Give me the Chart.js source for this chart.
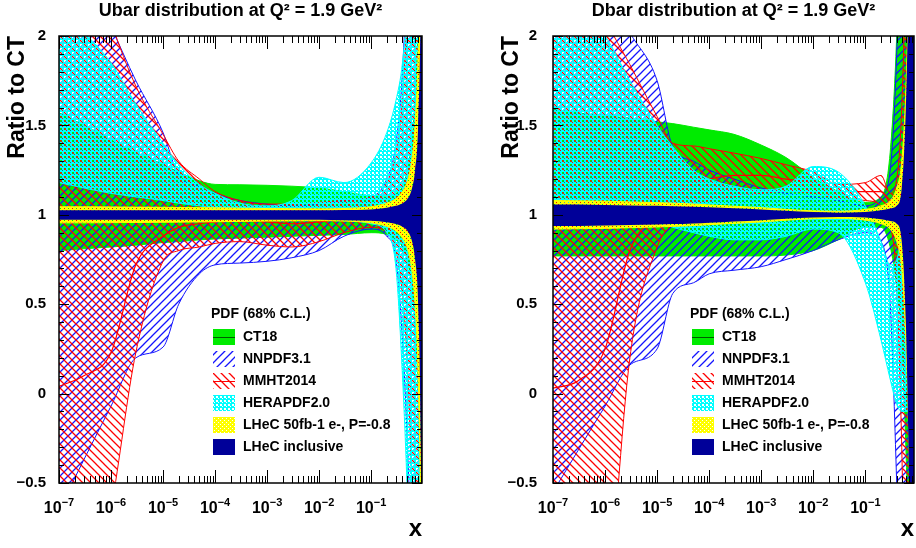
<!DOCTYPE html>
<html>
<head>
<meta charset="utf-8">
<script src="https://cdn.jsdelivr.net/npm/chart.js@4.4.0/dist/chart.umd.min.js"></script>
<style>
  html, body { margin: 0; padding: 0; background: #fff; }
  #wrap { position: relative; width: 916px; height: 548px; overflow: hidden; }
  .panel { position: absolute; top: 0; width: 458px; height: 548px; }
</style>
</head>
<body>
<div id="wrap">
  <div class="panel" style="left:0"><canvas id="ubar" width="458" height="548"></canvas></div>
  <div class="panel" style="left:458px"><canvas id="dbar" width="458" height="548"></canvas></div>
</div>
<script>
// x grid shared by every curve
const xGrid = [1e-7, 3e-7, 1e-6, 3e-6, 1e-5, 2e-5, 5e-5, 1e-4, 3e-4, 1e-3, 3e-3, 1e-2, 3e-2, 0.1, 0.2, 0.3, 0.4, 0.5, 0.6, 0.7, 0.8, 0.9, 0.95];
const xDecades = [1e-7, 1e-6, 1e-5, 1e-4, 1e-3, 1e-2, 1e-1];
const xExponents = ['−7', '−6', '−5', '−4', '−3', '−2', '−1'];
const yTicks = [-0.5, 0, 0.5, 1, 1.5, 2];
const seriesNames = ['CT18', 'NNPDF3.1', 'MMHT2014', 'HERAPDF2.0', 'LHeC 50fb-1 e-, P=-0.8', 'LHeC inclusive'];

// Ubar ratio bands (upper / lower edge)
const uCtUp = [1.57, 1.50, 1.42, 1.35, 1.28, 1.24, 1.19, 1.17, 1.168, 1.165, 1.16, 1.15, 1.13, 1.105, 1.10, 1.12, 1.16, 1.25, 1.4, 1.65, 2.1, 3, 4];
const uCtLo = [0.80, 0.81, 0.82, 0.83, 0.845, 0.85, 0.86, 0.865, 0.87, 0.875, 0.88, 0.885, 0.89, 0.90, 0.89, 0.86, 0.82, 0.74, 0.6, 0.38, 0.0, -0.8, -1.5];
const uNnUp = [2.6, 2.35, 2.05, 1.75, 1.46, 1.22, 1.16, 1.12, 1.08, 1.06, 1.05, 1.06, 1.08, 1.1, 1.2, 1.4, 1.8, 2.5, 3.5, 4, 4, 4, 4];
const uNnLo = [-0.65, -0.37, -0.07, 0.2, 0.26, 0.5, 0.67, 0.72, 0.73, 0.74, 0.76, 0.8, 0.88, 0.92, 0.88, 0.75, 0.3, -0.3, -1, -2, -2, -2, -2];
const uMmUp = [3.0, 2.6, 2.08, 1.72, 1.45, 1.3, 1.2, 1.13, 1.08, 1.06, 1.06, 1.07, 1.08, 1.1, 1.18, 1.35, 1.65, 2.2, 3, 4, 4, 4, 4];
const uMmLo = [-2.0, -1.4, -0.65, 0.23, 0.74, 0.8, 0.82, 0.84, 0.85, 0.83, 0.82, 0.85, 0.9, 0.93, 0.9, 0.8, 0.55, 0.15, -0.5, -1.5, -2, -2, -2];
const uMmMid = [0.04, 0.1, 0.23, 0.72, 0.88, 0.93, 0.95, 0.96, 0.97, 0.96, 0.95, 0.96, 0.98, 1.0, 1.02, 1.05, 1.1, 1.2, 1.3, 1.4, 1.5, 1.5, 1.5];
const uHeUp = [2.15, 2.02, 1.85, 1.62, 1.4, 1.28, 1.17, 1.12, 1.065, 1.05, 1.08, 1.21, 1.18, 1.29, 1.46, 1.64, 1.85, 2.2, 2.8, 3.5, 4, 4, 4];
const uHeLo = [1.18, 1.15, 1.12, 1.10, 1.08, 1.065, 1.05, 1.035, 1.01, 0.99, 0.98, 0.98, 0.97, 0.95, 0.9, 0.7, 0.1, -0.6, -1.5, -2, -2, -2, -2];
const uYeUp = [1.045, 1.045, 1.044, 1.043, 1.042, 1.041, 1.04, 1.039, 1.037, 1.035, 1.034, 1.033, 1.035, 1.045, 1.065, 1.09, 1.13, 1.19, 1.3, 1.5, 1.9, 2.8, 4];
const uYeLo = [0.955, 0.955, 0.956, 0.957, 0.958, 0.959, 0.96, 0.961, 0.963, 0.965, 0.966, 0.967, 0.965, 0.955, 0.935, 0.91, 0.87, 0.81, 0.7, 0.5, 0.1, -0.8, -2];
const uNvUp = [1.025, 1.025, 1.025, 1.025, 1.025, 1.025, 1.025, 1.025, 1.025, 1.025, 1.025, 1.025, 1.027, 1.03, 1.04, 1.05, 1.065, 1.09, 1.14, 1.25, 1.5, 2.3, 3.5];
const uNvLo = [0.972, 0.972, 0.972, 0.972, 0.972, 0.972, 0.972, 0.972, 0.972, 0.972, 0.972, 0.972, 0.97, 0.967, 0.958, 0.948, 0.933, 0.91, 0.86, 0.75, 0.5, -0.3, -1.5];

// Dbar ratio bands
const dCtUp = [1.59, 1.57, 1.555, 1.54, 1.52, 1.51, 1.49, 1.475, 1.45, 1.39, 1.32, 1.21, 1.13, 1.07, 1.1, 1.35, 2.0, 3.0, 4, 4, 4, 4, 4];
const dCtLo = [0.77, 0.77, 0.77, 0.77, 0.77, 0.77, 0.77, 0.77, 0.77, 0.77, 0.775, 0.8, 0.86, 0.93, 0.93, 0.82, 0.6, 0.3, -0.3, -1, -2, -2, -2];
const dNnUp = [2.6, 2.45, 2.3, 2.02, 1.75, 1.38, 1.3, 1.25, 1.2, 1.15, 1.12, 1.1, 1.08, 1.05, 1.1, 1.25, 1.9, 3, 4, 4, 4, 4, 4];
const dNnLo = [-0.55, -0.32, -0.07, 0.16, 0.25, 0.56, 0.62, 0.67, 0.69, 0.71, 0.75, 0.8, 0.86, 0.9, 0.85, 0.5, -0.5, -1.5, -2, -2, -2, -2, -2];
const dMmUp = [3.0, 2.5, 2.1, 1.84, 1.55, 1.4, 1.385, 1.37, 1.345, 1.315, 1.28, 1.24, 1.17, 1.18, 1.22, 1.12, 1.2, 1.6, 2.5, 4, 4, 4, 4];
const dMmLo = [-3.0, -2.2, -1.36, 0.2, 0.82, 0.95, 1.05, 1.08, 1.1, 1.12, 1.13, 1.12, 1.09, 1.08, 1.05, 0.95, 0.6, -0.3, -1.5, -2, -2, -2, -2];
const dMmMid = [0.03, 0.07, 0.25, 0.8, 1.0, 1.1, 1.18, 1.2, 1.22, 1.22, 1.2, 1.18, 1.13, 1.13, 1.13, 1.05, 0.9, 0.65, 0.3, 0, -0.5, -1, -1];
const dHeUp = [2.3, 2.15, 2.0, 1.75, 1.5, 1.38, 1.25, 1.2, 1.16, 1.14, 1.16, 1.27, 1.24, 1.05, 0.85, 0.72, 0.75, 0.9, 1.1, 1.3, 1.6, 1.8, 2];
const dHeLo = [1.08, 1.06, 1.03, 1.0, 0.96, 0.93, 0.9, 0.88, 0.86, 0.86, 0.88, 0.92, 0.9, 0.62, 0.3, 0.08, -0.06, -0.1, -0.1, -0.1, -0.1, -0.1, -0.1];
const dYeUp = [1.08, 1.078, 1.076, 1.072, 1.068, 1.065, 1.06, 1.055, 1.048, 1.04, 1.03, 1.022, 1.02, 1.03, 1.05, 1.08, 1.15, 1.3, 1.7, 2.4, 3.5, 4, 4];
const dYeLo = [0.92, 0.922, 0.924, 0.928, 0.932, 0.935, 0.94, 0.945, 0.952, 0.96, 0.97, 0.978, 0.98, 0.97, 0.95, 0.92, 0.85, 0.7, 0.3, -0.4, -1.5, -2, -2];
const dNvUp = [1.058, 1.057, 1.055, 1.052, 1.05, 1.048, 1.045, 1.042, 1.036, 1.03, 1.022, 1.015, 1.012, 1.015, 1.025, 1.035, 1.05, 1.15, 1.6, 2.5, 3.5, 4, 4];
const dNvLo = [0.937, 0.938, 0.94, 0.943, 0.946, 0.948, 0.952, 0.956, 0.963, 0.97, 0.978, 0.985, 0.988, 0.985, 0.975, 0.965, 0.95, 0.85, 0.4, -0.5, -1.5, -2, -2];

const FONT = "'Liberation Sans', Arial, Helvetica, sans-serif";
const GREEN = 'rgb(0,235,0)';
const BLUE = 'rgb(20,20,255)';
const RED = 'rgb(255,0,0)';
const CYAN = 'rgb(0,255,255)';
const YELLOW = 'rgb(255,255,0)';
const NAVY = 'rgb(0,0,153)';

Chart.defaults.font.family = FONT;
Chart.defaults.color = '#000';

// ROOT-like fill patterns
function hatch(color, slash) {
  const c = document.createElement('canvas');
  c.width = c.height = 8;
  const g = c.getContext('2d');
  g.strokeStyle = color;
  g.lineWidth = 1.3;
  g.beginPath();
  for (let k = -1; k <= 1; k++) {
    if (slash) { g.moveTo(k * 8 - 1, 9); g.lineTo(k * 8 + 9, -1); }
    else { g.moveTo(k * 8 - 1, -1); g.lineTo(k * 8 + 9, 9); }
  }
  g.stroke();
  return g.createPattern(c, 'repeat');
}

function dots(color, holes) {
  const c = document.createElement('canvas');
  c.width = c.height = 4;
  const g = c.getContext('2d');
  g.fillStyle = color;
  g.fillRect(0, 0, 4, 4);
  holes.forEach(h => g.clearRect(h[0], h[1], h[2], h[3]));
  return g.createPattern(c, 'repeat');
}

const fillCT = GREEN;
const fillNN = hatch(BLUE, true);
const fillMM = hatch(RED, false);
const fillHE = dots(CYAN, [[0, 0, 2, 2], [2, 2, 1, 1]]);
const fillYE = dots(YELLOW, [[0, 0, 1, 1], [2, 2, 1, 1]]);
const fillNV = NAVY;

const swatches = [
  { fill: fillCT, line: 'rgb(0,90,0)' },
  { fill: fillNN },
  { fill: fillMM, line: RED },
  { fill: fillHE, line: CYAN },
  { fill: fillYE },
  { fill: fillNV }
];

const pts = ys => xGrid.map((x, i) => ({ x, y: ys[i] }));

function band(up, lo, fill, line, width) {
  return [
    { data: pts(up), fill: '+1', backgroundColor: fill, borderColor: line, borderWidth: width },
    { data: pts(lo), fill: false, borderColor: line, borderWidth: width }
  ];
}

// frame, inside ticks and 10^n labels
const rootAxes = {
  id: 'rootAxes',
  afterDatasetsDraw(chart) {
    const { ctx, chartArea: a, scales: { x, y } } = chart;
    ctx.save();
    ctx.strokeStyle = '#000';
    ctx.lineWidth = 1;
    ctx.beginPath();
    for (let e = -7; e <= 0; e++) {
      for (let k = 1; k <= 9; k++) {
        const v = k * Math.pow(10, e);
        if (v < x.min || v > x.max) continue;
        const px = Math.round(x.getPixelForValue(v)) + 0.5;
        const len = k === 1 ? 13 : 7;
        ctx.moveTo(px, a.bottom); ctx.lineTo(px, a.bottom - len);
        ctx.moveTo(px, a.top); ctx.lineTo(px, a.top + len);
      }
    }
    for (let i = -5; i <= 20; i++) {
      const py = Math.round(y.getPixelForValue(i / 10)) + 0.5;
      const len = i % 5 === 0 ? 10 : 5;
      ctx.moveTo(a.left, py); ctx.lineTo(a.left + len, py);
      ctx.moveTo(a.right, py); ctx.lineTo(a.right - len, py);
    }
    ctx.stroke();
    ctx.lineWidth = 1.5;
    ctx.strokeRect(a.left, a.top, a.right - a.left, a.bottom - a.top);

    ctx.fillStyle = '#000';
    ctx.textBaseline = 'alphabetic';
    ctx.textAlign = 'left';
    xDecades.forEach((d, i) => {
      const px = x.getPixelForValue(d);
      ctx.font = 'bold 16px ' + FONT;
      const w1 = ctx.measureText('10').width;
      ctx.font = 'bold 11px ' + FONT;
      const w2 = ctx.measureText(xExponents[i]).width;
      const x0 = px - (w1 + w2) / 2;
      ctx.font = 'bold 16px ' + FONT;
      ctx.fillText('10', x0, 513);
      ctx.font = 'bold 11px ' + FONT;
      ctx.fillText(xExponents[i], x0 + w1, 506);
    });
    ctx.restore();
  }
};

const pdfLegend = {
  id: 'pdfLegend',
  afterDraw(chart, args, opts) {
    const ctx = chart.ctx;
    const x0 = opts.x;
    ctx.save();
    ctx.textBaseline = 'middle';
    ctx.textAlign = 'left';
    ctx.fillStyle = '#000';
    ctx.font = 'bold 14px ' + FONT;
    ctx.fillText('PDF (68% C.L.)', x0 - 2, 314);
    swatches.forEach((sw, i) => {
      const cy = 337 + i * 22;
      ctx.fillStyle = sw.fill;
      ctx.fillRect(x0, cy - 8, 22, 16);
      if (sw.line) {
        ctx.strokeStyle = sw.line;
        ctx.lineWidth = 1;
        ctx.beginPath();
        ctx.moveTo(x0, cy + 0.5);
        ctx.lineTo(x0 + 22, cy + 0.5);
        ctx.stroke();
      }
      ctx.fillStyle = '#000';
      ctx.fillText(seriesNames[i], x0 + 30, cy);
    });
    ctx.restore();
  }
};

function makeChart(id, title, datasets, opt) {
  return new Chart(document.getElementById(id), {
    type: 'line',
    data: { datasets },
    options: {
      responsive: false,
      animation: false,
      devicePixelRatio: 1,
      layout: { padding: { left: 0, right: opt.padRight, top: 0, bottom: 0 } },
      elements: {
        point: { radius: 0 },
        line: { cubicInterpolationMode: 'monotone' }
      },
      plugins: {
        legend: { display: false },
        tooltip: { enabled: false },
        title: {
          display: true,
          text: title,
          fullSize: false,
          color: '#000',
          font: { size: 18, weight: 'bold' },
          padding: { top: 0, bottom: 14.4 }
        },
        pdfLegend: { x: opt.legendX }
      },
      scales: {
        x: {
          type: 'logarithmic',
          min: 1e-7,
          max: opt.xMax,
          grid: { display: false },
          border: { display: false },
          ticks: { display: false },
          title: {
            display: true, text: 'x', align: 'end', color: '#000',
            font: { size: 24, weight: 'bold' },
            padding: { top: 0, bottom: 4 }
          },
          afterFit: s => { s.height = 65; }
        },
        y: {
          min: -0.5,
          max: 2,
          afterBuildTicks: s => { s.ticks = yTicks.map(v => ({ value: v })); },
          grid: { display: false },
          border: { display: false },
          ticks: {
            color: '#000',
            padding: opt.tickPad,
            font: { size: 15, weight: 'bold' },
            callback: v => (v < 0 ? '−' : '') + Math.abs(v)
          },
          title: {
            display: true, text: 'Ratio to CT', align: 'end', color: '#000',
            font: { size: 23, weight: 'bold' },
            padding: { top: opt.yTitlePad, bottom: 0 }
          },
          afterFit: s => { s.width = opt.yWidth; }
        }
      }
    },
    plugins: [rootAxes, pdfLegend]
  });
}

// first dataset is drawn on top
const ubarSets = [
  ...band(uNvUp, uNvLo, fillNV, NAVY, 0),
  ...band(uYeUp, uYeLo, fillYE, YELLOW, 1),
  ...band(uHeUp, uHeLo, fillHE, CYAN, 1),
  { data: pts(uMmMid), fill: false, borderColor: RED, borderWidth: 1.2 },
  ...band(uMmUp, uMmLo, fillMM, RED, 1),
  ...band(uNnUp, uNnLo, fillNN, BLUE, 1),
  ...band(uCtUp, uCtLo, fillCT, GREEN, 1)
];

const dbarSets = [
  ...band(dNvUp, dNvLo, fillNV, NAVY, 0),
  ...band(dYeUp, dYeLo, fillYE, YELLOW, 1),
  ...band(dHeUp, dHeLo, fillHE, CYAN, 1),
  { data: pts(dMmMid), fill: false, borderColor: RED, borderWidth: 1.2 },
  ...band(dMmUp, dMmLo, fillMM, RED, 1),
  ...band(dNnUp, dNnLo, fillNN, BLUE, 1),
  ...band(dCtUp, dCtLo, fillCT, GREEN, 1)
];

makeChart('ubar', 'Ubar distribution at Q² = 1.9 GeV²', ubarSets,
  { padRight: 36, yWidth: 59, yTitlePad: 4, tickPad: 5, xMax: 0.95, legendX: 213 });
makeChart('dbar', 'Dbar distribution at Q² = 1.9 GeV²', dbarSets,
  { padRight: 2, yWidth: 95, yTitlePad: 40, tickPad: 8, xMax: 0.86, legendX: 234 });
</script>
</body>
</html>
